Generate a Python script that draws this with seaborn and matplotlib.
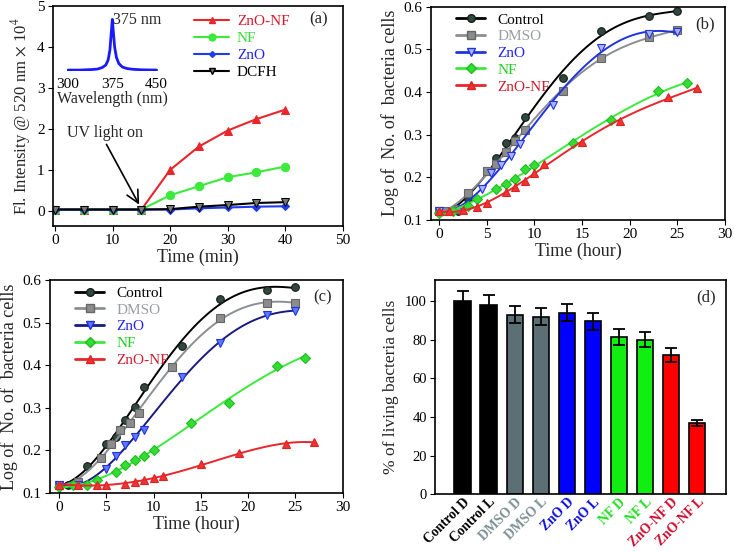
import numpy as np
import pandas as pd
import matplotlib
matplotlib.use('Agg')
import matplotlib.pyplot as plt
from matplotlib.lines import Line2D
import seaborn as sns

########################################################################################################################################
# data

# (a) fluorescence vs time
time_a = [0, 5, 10, 15, 20, 25, 30, 35, 40]
fl_znonf = [0.03, 0.03, 0.03, 0.03, 1.00, 1.57, 1.96, 2.24, 2.47]
fl_nf = [0.03, 0.03, 0.03, 0.03, 0.38, 0.60, 0.82, 0.94, 1.08]
fl_zno = [0.03, 0.03, 0.03, 0.03, 0.03, 0.06, 0.08, 0.10, 0.11]
fl_dcfh = [0.03, 0.03, 0.03, 0.03, 0.04, 0.10, 0.14, 0.19, 0.21]

# (a) inset spectrum
wl = [300, 320, 340, 350, 358, 364, 368, 371, 373, 375, 377, 379, 382, 386, 392, 400, 410, 425, 450]
spec = [0.0, 0.0, 0.01, 0.02, 0.05, 0.10, 0.20, 0.40, 0.70, 1.0, 0.72, 0.45, 0.25, 0.13, 0.06, 0.03, 0.015, 0.005, 0.0]

# (b) growth curves, dark
b_ctrl_t = [0, 1, 2, 3, 5, 6, 7, 8, 9, 13, 17, 22, 25]
b_ctrl_y = [0.12, 0.12, 0.12, 0.15, 0.215, 0.245, 0.28, 0.292, 0.34, 0.432, 0.543, 0.577, 0.59]
b_dmso_t = [0, 0.5, 2, 3, 5, 6, 7, 8, 9, 13, 17, 22, 25]
b_dmso_y = [0.12, 0.12, 0.125, 0.162, 0.215, 0.232, 0.26, 0.285, 0.31, 0.402, 0.48, 0.528, 0.545]
b_zno_t = [0, 2.5, 4.5, 5.5, 6.5, 7.5, 8.5, 12, 17, 22, 25]
b_zno_y = [0.12, 0.125, 0.172, 0.21, 0.228, 0.25, 0.278, 0.37, 0.503, 0.536, 0.54]
b_nf_t = [0, 1.5, 3, 4, 6, 7, 8, 9, 10, 14, 18, 23, 26]
b_nf_y = [0.115, 0.12, 0.133, 0.15, 0.172, 0.183, 0.195, 0.22, 0.228, 0.28, 0.335, 0.402, 0.42]
b_znonf_t = [0, 1, 2.5, 4, 5, 7, 8, 9, 10, 11, 15, 19, 24, 27]
b_znonf_y = [0.12, 0.12, 0.122, 0.13, 0.14, 0.165, 0.178, 0.19, 0.21, 0.23, 0.283, 0.332, 0.388, 0.408]

# (c) growth curves, light
c_ctrl_t = [0, 1, 3, 5, 6, 7, 8, 9, 13, 17, 22, 25]
c_ctrl_y = [0.12, 0.12, 0.163, 0.216, 0.232, 0.272, 0.302, 0.348, 0.445, 0.555, 0.576, 0.583]
c_dmso_t = [0, 2, 4.5, 5.5, 6.5, 7.5, 8.5, 12, 17, 22, 25]
c_dmso_y = [0.12, 0.125, 0.183, 0.215, 0.248, 0.265, 0.288, 0.395, 0.51, 0.545, 0.547]
c_zno_t = [0, 2, 5, 6, 7, 8, 9, 13, 17, 22, 25]
c_zno_y = [0.12, 0.118, 0.157, 0.188, 0.212, 0.232, 0.248, 0.372, 0.453, 0.517, 0.528]
c_nf_t = [0, 1.5, 3, 4, 6, 7, 8, 9, 10, 14, 18, 23, 26]
c_nf_y = [0.115, 0.118, 0.12, 0.13, 0.15, 0.165, 0.177, 0.188, 0.202, 0.265, 0.312, 0.398, 0.418]
c_znonf_t = [0, 2, 4, 5, 7, 8, 9, 10, 11, 15, 19, 24, 27]
c_znonf_y = [0.12, 0.12, 0.12, 0.12, 0.122, 0.125, 0.13, 0.135, 0.14, 0.168, 0.193, 0.215, 0.22]

# (d) viability
bar_labels = ['Control D', 'Control L', 'DMSO D', 'DMSO L', 'ZnO D', 'ZnO L', 'NF D', 'NF L', 'ZnO-NF D', 'ZnO-NF L']
bar_values = [100, 98, 93, 92, 94, 89.5, 81.5, 80, 72, 37]
bar_errors = [5, 5, 4.5, 4.5, 4.5, 4.5, 4, 4, 3.5, 1.5]

########################################################################################################################################

sns.set_style('ticks')
plt.rcParams['font.family'] = ['Liberation Serif', 'DejaVu Serif']
plt.rcParams['mathtext.fontset'] = 'stix'
plt.rcParams['xtick.direction'] = 'out'
plt.rcParams['ytick.direction'] = 'out'
plt.rcParams['axes.edgecolor'] = 'black'
plt.rcParams['axes.linewidth'] = 1.2
plt.rcParams['xtick.color'] = 'black'
plt.rcParams['ytick.color'] = 'black'
plt.rcParams['xtick.labelsize'] = 11
plt.rcParams['ytick.labelsize'] = 11
plt.rcParams['xtick.major.pad'] = 2.5
plt.rcParams['ytick.major.pad'] = 2.5

RED = '#E8262B'
GREEN = '#3BEA3B'
BLUE = '#1F3BF0'
GREY = '#8A8F92'

fig = plt.figure(figsize=(7.34, 5.51), dpi=100)

#(a)
ax = fig.add_axes([0.072, 0.590, 0.395, 0.399])
series_a = [('ZnO-NF', fl_znonf, RED, '^', '#D7192B'),
            ('NF', fl_nf, GREEN, 'o', '#33DD33'),
            ('ZnO', fl_zno, BLUE, 'D', '#2222EE'),
            ('DCFH', fl_dcfh, 'black', 'v', 'black')]
handles = []
for name, vals, col, mk, tcol in series_a:
    ms = 4 if mk == 'D' else 6
    sns.lineplot(x=time_a, y=vals, ax=ax, color=col, marker=mk, markersize=ms, linewidth=1.5,
                 markeredgecolor='black' if name == 'DCFH' else col,
                 markerfacecolor='#777777' if name == 'DCFH' else col)
    handles.append(Line2D([0], [0], color=col, marker=mk, markersize=ms - 1,
                          markerfacecolor='#777777' if name == 'DCFH' else col,
                          markeredgecolor='black' if name == 'DCFH' else col, lw=1.5))
leg = ax.legend(handles, [s[0] for s in series_a], loc='upper left', bbox_to_anchor=(0.44, 1.025),
                frameon=False, fontsize=11, handlelength=2.3, labelspacing=0.22, handletextpad=0.5)
for txt, s in zip(leg.get_texts(), series_a):
    txt.set_color(s[4])
ax.set_xlim(-0.4, 50)
ax.set_ylim(-0.37, 5)
ax.set_xticks([0, 10, 20, 30, 40, 50])
ax.set_xlabel('Time (min)', fontsize=13, labelpad=1)
ax.set_ylabel(r'Fl. Intensity @ 520 nm $\times$ 10$^4$', fontsize=12, labelpad=3)
ax.text(0.915, 0.92, '(a)', transform=ax.transAxes, fontsize=12, ha='center')
ax.annotate('UV light on', xy=(14.6, 0.15), xytext=(2.0, 1.8), fontsize=11.5,
            arrowprops=dict(arrowstyle='->', lw=1.2, color='black', mutation_scale=22,
                            shrinkA=0, shrinkB=0, relpos=(0.5, 0)))

# inset
ins = fig.add_axes([0.091, 0.871, 0.124, 0.103])
sns.lineplot(x=wl, y=spec, ax=ins, color='#1a1aff', linewidth=2)
ins.set_xlim(298, 452)
ins.set_ylim(-0.02, 1.1)
for sp in ins.spines.values():
    sp.set_visible(False)
ins.set_yticks([])
ins.set_xticks([300, 375, 450])
ins.tick_params(axis='x', length=0, labelsize=11, pad=5)
ins.set_xlabel('Wavelength (nm)', fontsize=11.5, labelpad=0)
ins.set_ylabel('')
ins.patch.set_alpha(0)
ins.text(377, 0.98, '375 nm', fontsize=11.5, va='center')


def growth_panel(ax, groups, tag):
    handles = []
    for name, t, y, lcol, mk, mfc, mec, tcol in groups:
        sns.regplot(x=np.array(t), y=np.array(y), ax=ax, order=4, ci=None, scatter=False, truncate=True,
                    line_kws=dict(color=lcol, lw=1.4))
        ax.plot(t, y, linestyle='none', marker=mk, markersize=5.5, markerfacecolor=mfc,
                markeredgecolor=mec, markeredgewidth=0.8)
        handles.append(Line2D([0], [0], color=lcol, marker=mk, markersize=5.5, markerfacecolor=mfc,
                              markeredgecolor=mec, lw=2))
    leg = ax.legend(handles, [g[0] for g in groups], loc='upper left', bbox_to_anchor=(0.04, 1.035),
                    frameon=False, fontsize=11, handlelength=1.9, labelspacing=0.2, handletextpad=0.8)
    for txt, g in zip(leg.get_texts(), groups):
        txt.set_color(g[7])
    ax.set_xlim(-0.85, 30)
    ax.set_ylim(0.1, 0.6)
    ax.set_xticks([0, 5, 10, 15, 20, 25, 30])
    ax.set_yticks([0.1, 0.2, 0.3, 0.4, 0.5, 0.6])
    ax.set_xlabel('Time (hour)', fontsize=13, labelpad=1)
    ax.set_ylabel('Log of  No. of  bacteria cells', fontsize=13, labelpad=3)
    ax.text(0.93, 0.9, tag, transform=ax.transAxes, fontsize=12, ha='center')


#(b)
ax = fig.add_axes([0.587, 0.601, 0.401, 0.387])
growth_panel(ax, [
    ('Control', b_ctrl_t, b_ctrl_y, 'black', 'o', '#2E4A3C', '#1a1a1a', 'black'),
    ('DMSO', b_dmso_t, b_dmso_y, GREY, 's', '#8C8C8C', '#666666', '#9A9EA0'),
    ('ZnO', b_zno_t, b_zno_y, '#2233DD', 'v', '#A8B4FF', '#2233DD', '#2222EE'),
    ('NF', b_nf_t, b_nf_y, GREEN, 'D', '#33DD33', '#22BB22', '#22CC22'),
    ('ZnO-NF', b_znonf_t, b_znonf_y, RED, '^', '#EE3333', '#DD2222', '#C81E2D'),
], '(b)')

#(c)
ax = fig.add_axes([0.068, 0.105, 0.399, 0.387])
growth_panel(ax, [
    ('Control', c_ctrl_t, c_ctrl_y, 'black', 'o', '#2E4A3C', '#1a1a1a', 'black'),
    ('DMSO', c_dmso_t, c_dmso_y, GREY, 's', '#8C8C8C', '#666666', '#9A9EA0'),
    ('ZnO', c_zno_t, c_zno_y, '#1A1A80', 'v', '#5F78FF', '#2233DD', '#2222EE'),
    ('NF', c_nf_t, c_nf_y, GREEN, 'D', '#33DD33', '#22BB22', '#22CC22'),
    ('ZnO-NF', c_znonf_t, c_znonf_y, RED, '^', '#EE3333', '#DD2222', '#C81E2D'),
], '(c)')
ax.set_xlim(-0.95, 30)

#(d)
ax = fig.add_axes([0.593, 0.103, 0.396, 0.389])
bar_colors = ['#000000', '#000000', '#5B6F75', '#5B6F75', '#0000FF', '#0000FF',
              '#11EE11', '#11EE11', '#FF0000', '#FF0000']
label_colors = ['#000000', '#000000', '#7E9094', '#7E9094', '#1010DD', '#1010DD',
                '#22DD22', '#22DD22', '#CC1030', '#CC1030']
df_d = pd.DataFrame({'sample': bar_labels, 'value': bar_values})
sns.barplot(data=df_d, x='sample', y='value', hue='sample', palette=bar_colors, legend=False,
            ax=ax, width=0.63, edgecolor='black', linewidth=1.2, saturation=1)
ax.errorbar(range(len(bar_values)), bar_values, yerr=bar_errors, fmt='none', ecolor='black',
            elinewidth=1.3, capsize=4, capthick=1.3)
ax.set_xlim(-1.05, 10.1)
ax.set_ylim(0, 111)
ax.set_yticks([0, 20, 40, 60, 80, 100])
ax.tick_params(axis='y', labelsize=10.5)
ax.set_xlabel('')
ax.set_ylabel('% of living bacteria cells', fontsize=12.5, labelpad=4)
ax.tick_params(axis='x', length=0, pad=1)
ax.set_xticks(range(len(bar_labels)))
ax.set_xticklabels(bar_labels, rotation=45, ha='right', rotation_mode='anchor', fontsize=9.8,
                   fontweight='bold')
for lab, col in zip(ax.get_xticklabels(), label_colors):
    lab.set_color(col)
ax.text(0.93, 0.9, '(d)', transform=ax.transAxes, fontsize=12, ha='center')

fig.savefig('out.png', dpi=100)
